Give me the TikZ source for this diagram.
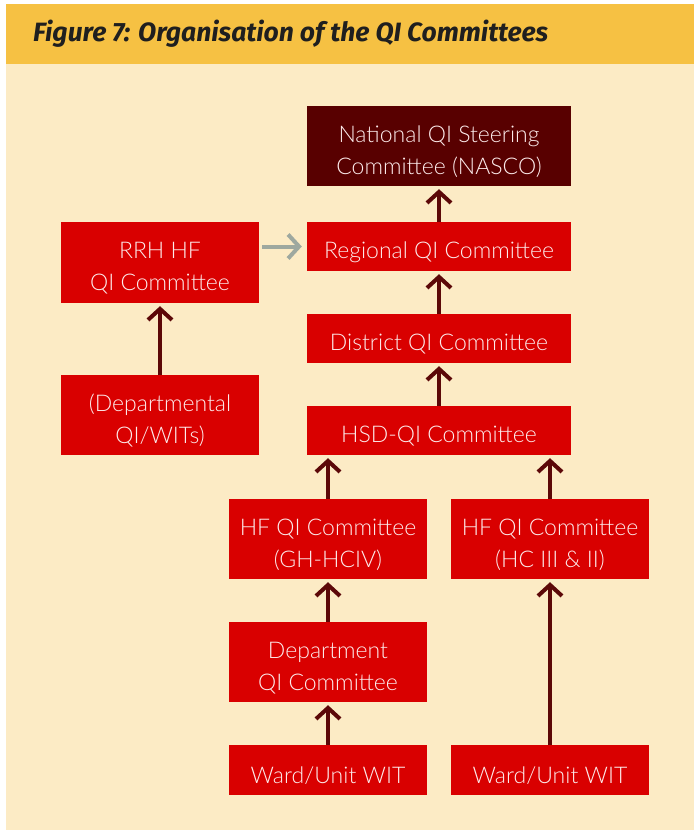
\documentclass[tikz,border=0pt]{standalone}
\usepackage{fontspec}
\setmainfont{Lato Light}
\newfontfamily\titlefont{Fira Sans}
\usetikzlibrary{arrows.meta}
\definecolor{cream}{HTML}{FCEBC5}
\definecolor{header}{HTML}{F6C143}
\definecolor{boxred}{HTML}{D90000}
\definecolor{darkbox}{HTML}{580000}
\definecolor{arrowdark}{HTML}{5C0808}
\definecolor{arrowgray}{HTML}{9EA89F}
\definecolor{boxtext}{HTML}{FDECEC}
\definecolor{titletext}{HTML}{1F1F1F}
\begin{document}
\begin{tikzpicture}[x=1pt,y=-1pt,
  box/.style={fill=boxred, inner sep=0pt,
    minimum width=198pt, minimum height=80pt},
  widebox/.style={box, minimum width=264pt, minimum height=49pt},
  boxtxt/.style={text=boxtext, inner sep=0pt, align=center, yshift=-6pt,
    font=\fontsize{23}{32}\selectfont},
  upar/.style={draw=arrowdark, line width=4pt,
    -{Straight Barb[length=11pt,width=24pt,line width=4pt]}, shorten >=3pt},
  grayar/.style={draw=arrowgray, line width=4pt,
    -{Straight Barb[length=11pt,width=24pt,line width=4pt]}, shorten >=5pt, shorten <=3pt}]
\useasboundingbox (0,0) rectangle (694,830);
\fill[white] (0,0) rectangle (694,830);
\fill[cream] (6,64) rectangle (694,830);
\fill[header] (6,4) rectangle (694,64);
\node[anchor=west, text=titletext, inner sep=0pt,
  font=\titlefont\bfseries\itshape\fontsize{26.5}{30}\selectfont] (title) at (33,34)
  {Figure 7: Organisation of the QI Committees};

\node[box, fill=darkbox, minimum width=264pt] (nasco) at (439,146) {};
\node[widebox] (regional) at (439,246.5) {};
\node[box, minimum height=81pt] (rrh) at (160,262.5) {};
\node[widebox] (district) at (439,338.5) {};
\node[box] (dept) at (160,415) {};
\node[widebox] (hsd) at (439,430.5) {};
\node[box] (hfgh) at (328,539) {};
\node[box] (hfhc) at (550,539) {};
\node[box] (deptqi) at (328,662) {};
\node[box, minimum height=50pt] (wardl) at (328,770) {};
\node[box, minimum height=50pt] (wardr) at (550,770) {};

\node[boxtxt] (nasco-t) at (nasco) {National QI Steering\\Committee (NASCO)};
\node[boxtxt] (regional-t) at (regional) {Regional QI Committee};
\node[boxtxt] (rrh-t) at (rrh) {RRH HF\\QI Committee};
\node[boxtxt] (district-t) at (district) {District QI Committee};
\node[boxtxt] (dept-t) at (dept) {(Departmental\\QI/WITs)};
\node[boxtxt] (hsd-t) at (hsd) {HSD-QI Committee};
\node[boxtxt] (hfgh-t) at (hfgh) {HF QI Committee\\(GH-HCIV)};
\node[boxtxt] (hfhc-t) at (hfhc) {HF QI Committee\\(HC III \& II)};
\node[boxtxt] (deptqi-t) at (deptqi) {Department\\QI Committee};
\node[boxtxt] (wardl-t) at (wardl) {Ward/Unit WIT};
\node[boxtxt] (wardr-t) at (wardr) {Ward/Unit WIT};

\draw[upar] (regional.north) -- (nasco.south);
\draw[upar] (district.north) -- (regional.south);
\draw[upar] (hsd.north) -- (district.south);
\draw[upar] (dept.north) -- (rrh.south);
\draw[upar] (hfgh.north) -- (hfgh.north |- hsd.south);
\draw[upar] (hfhc.north) -- (hfhc.north |- hsd.south);
\draw[upar] (deptqi.north) -- (hfgh.south);
\draw[upar] (wardl.north) -- (deptqi.south);
\draw[upar] (wardr.north) -- (hfhc.south);
\draw[grayar] (rrh.east |- regional.west) -- (regional.west);
\end{tikzpicture}
\end{document}
